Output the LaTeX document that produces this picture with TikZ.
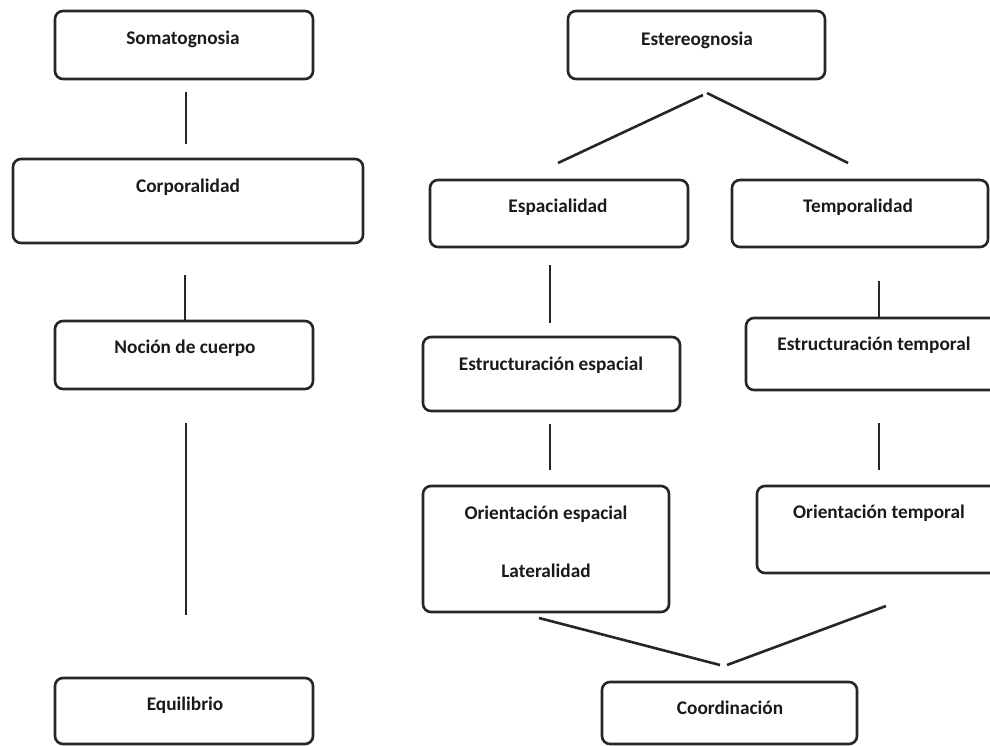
\documentclass[tikz,border=0pt]{standalone}
\usepackage{fontspec}
\setmainfont{Carlito}
\definecolor{ln}{HTML}{262626}
\definecolor{tx}{HTML}{1a1a1a}
\begin{document}
\begin{tikzpicture}[x=1pt,y=-1pt,
  box/.style={draw=ln,line width=2.6pt,rounded corners=8pt},
  txt/.style={font=\fontsize{19.3}{23}\selectfont\bfseries,text=tx,inner sep=0pt},
  conn/.style={draw=ln,line width=2.6pt}]
\useasboundingbox (0,0) rectangle (990,746);
\clip (0,0) rectangle (990,746);
% boxes
\path[box] (55,11) rectangle (313,79);
\path[box] (13,159) rectangle (363,243);
\path[box] (55,321) rectangle (313,389);
\path[box] (55,678) rectangle (313,744);
\path[box] (568,11) rectangle (825,79);
\path[box] (430,180) rectangle (688,247);
\path[box] (732,180) rectangle (988,247);
\path[box] (423,337) rectangle (680,411);
\path[box] (746,318) rectangle (1010,390);
\path[box] (423,486) rectangle (669,612);
\path[box] (757,486) rectangle (1010,573);
\path[box] (602,682) rectangle (857,744);
% texts
\node[txt] (soma) at (183,39) {Somatognosia};
\node[txt] (corp) at (188,187) {Corporalidad};
\node[txt] (noc) at (185,348) {Noción de cuerpo};
\node[txt] (equi) at (185,705) {Equilibrio};
\node[txt] (este) at (697,40) {Estereognosia};
\node[txt] (espa) at (558,207) {Espacialidad};
\node[txt] (temp) at (858,207) {Temporalidad};
\node[txt] (eesp) at (551,365) {Estructuración espacial};
\node[txt] (etem) at (874,345) {Estructuración temporal};
\node[txt] (oesp) at (546,514) {Orientación espacial};
\node[txt] (late) at (546,571) {Lateralidad};
\node[txt] (otem) at (879,513) {Orientación temporal};
\node[txt] (coor) at (730,708) {Coordinación};
% connector end points
\coordinate (a1) at (186,92);  \coordinate (a2) at (186,144);
\coordinate (b1) at (185,275); \coordinate (b2) at (185,321);
\coordinate (c1) at (186,423); \coordinate (c2) at (186,615);
\coordinate (d0) at (703,95);  \coordinate (d1) at (558,163);
\coordinate (e0) at (707,93);  \coordinate (e1) at (848,163);
\coordinate (f1) at (550,265); \coordinate (f2) at (550,323);
\coordinate (g1) at (550,424); \coordinate (g2) at (550,470);
\coordinate (h1) at (879,281); \coordinate (h2) at (879,318);
\coordinate (i1) at (879,423); \coordinate (i2) at (879,470);
\coordinate (j1) at (539,618); \coordinate (j2) at (720,665);
\coordinate (k1) at (886,606); \coordinate (k2) at (727,665);
\draw[conn] (a1) -- (a2);
\draw[conn] (b1) -- (b2);
\draw[conn] (c1) -- (c2);
\draw[conn] (d0) -- (d1);
\draw[conn] (e0) -- (e1);
\draw[conn] (f1) -- (f2);
\draw[conn] (g1) -- (g2);
\draw[conn] (h1) -- (h2);
\draw[conn] (i1) -- (i2);
\draw[conn] (j1) -- (j2);
\draw[conn] (k1) -- (k2);
\end{tikzpicture}
\end{document}
